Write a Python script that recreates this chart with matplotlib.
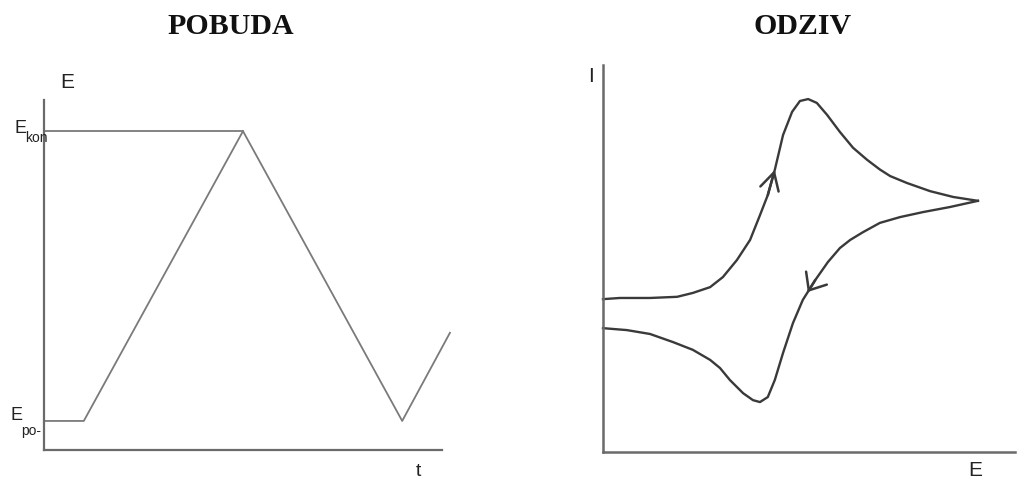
import matplotlib
matplotlib.use("Agg")
import matplotlib.pyplot as plt

W, H = 1019, 482

# ---- excitation (POBUDA) ----
t_pts = [0, 1.0, 5.0, 9.0, 10.2]
E_pts = [0.83, 0.83, 9.11, 0.83, 3.35]
E_kon = 9.11

# ---- response (ODZIV) ----
E_fwd = [0, 0.41, 1.14, 1.80, 2.18, 2.60, 2.91, 3.25, 3.57, 3.81, 4.00, 4.17,
         4.37, 4.59, 4.78, 4.98, 5.19, 5.44, 5.75, 6.07, 6.41, 6.72, 6.97,
         7.38, 7.94, 8.50, 9.10]
I_fwd = [3.95, 3.98, 3.98, 4.01, 4.11, 4.26, 4.52, 4.96, 5.48, 6.12, 6.64, 7.29,
         8.19, 8.79, 9.07, 9.12, 9.02, 8.71, 8.27, 7.86, 7.55, 7.30, 7.13,
         6.95, 6.74, 6.59, 6.49]
E_rev = [9.10, 8.42, 7.77, 7.21, 6.72, 6.31, 6.00, 5.75, 5.46, 5.15, 4.85, 4.61,
         4.37, 4.17, 4.00, 3.81, 3.64, 3.40, 3.08, 2.84, 2.60, 2.18, 1.70, 1.14,
         0.58, 0]
I_rev = [6.49, 6.33, 6.20, 6.07, 5.92, 5.68, 5.48, 5.27, 4.91, 4.44, 3.93, 3.33,
         2.56, 1.86, 1.42, 1.29, 1.34, 1.52, 1.86, 2.17, 2.38, 2.64, 2.84, 3.05,
         3.15, 3.20]

fig = plt.figure(figsize=(W / 100, H / 100), dpi=100)
fig.patch.set_facecolor("white")


def px(x, y):
    return x / W, 1 - y / H


def style_axes(ax, color, lw):
    for s in ("top", "right"):
        ax.spines[s].set_visible(False)
    for s in ("left", "bottom"):
        ax.spines[s].set_color(color)
        ax.spines[s].set_linewidth(lw)
    ax.set_xticks([])
    ax.set_yticks([])
    ax.set_xlim(0, 10)
    ax.set_ylim(0, 10)
    ax.patch.set_alpha(0)


# left axes: x 44..442 px, y 450..100 px
axL = fig.add_axes([44 / W, (H - 450) / H, 398 / W, 350 / H])
style_axes(axL, "#6a6a6a", 1.6)
axL.plot(t_pts, E_pts, color="#7a7a7a", lw=1.3, clip_on=False)
axL.plot([0, t_pts[2]], [E_kon, E_kon], color="#7a7a7a", lw=1.3, clip_on=False)

# right axes: x 603..1015 px, y 452..65 px
axR = fig.add_axes([603 / W, (H - 452) / H, 412 / W, 387 / H])
style_axes(axR, "#6a6a6a", 1.8)
lc = "#3a3a3a"
axR.plot(E_fwd, I_fwd, color=lc, lw=1.7, clip_on=False,
         solid_joinstyle="round")
axR.plot(E_rev, I_rev, color=lc, lw=1.7, clip_on=False,
         solid_joinstyle="round")

# forward arrow (tip on the rising branch)
axR.annotate("", xy=(E_fwd[11], I_fwd[11]), xytext=(E_fwd[10], I_fwd[10]),
             arrowprops=dict(arrowstyle="->,head_length=0.62,head_width=0.34",
                             color=lc, lw=1.8, mutation_scale=20,
                             shrinkA=0, shrinkB=0))
# reverse arrow (tip part-way along a descending segment)
f = 0.6
tipE = E_rev[9] + f * (E_rev[10] - E_rev[9])
tipI = I_rev[9] + f * (I_rev[10] - I_rev[9])
axR.annotate("", xy=(tipE, tipI), xytext=(E_rev[9], I_rev[9]),
             arrowprops=dict(arrowstyle="->,head_length=0.52,head_width=0.44",
                             color=lc, lw=1.8, mutation_scale=20,
                             shrinkA=0, shrinkB=0))

# titles
serif = ["Liberation Serif", "DejaVu Serif"]
fig.text(*px(231, 26), "POBUDA", family=serif, weight="bold", fontsize=21.5,
         ha="center", va="center", color="#111111")
fig.text(*px(803, 26), "ODZIV", family=serif, weight="bold", fontsize=21.5,
         ha="center", va="center", color="#111111")

sans = ["Liberation Sans", "DejaVu Sans"]
tc = "#222222"
fig.text(*px(67, 82), "E", family=sans, fontsize=15, ha="center", va="center", color=tc)
fig.text(*px(591, 77), "I", family=sans, fontsize=15, ha="center", va="center", color=tc)
fig.text(*px(418, 472), "t", family=sans, fontsize=14, ha="center", va="center", color=tc)
fig.text(*px(975, 470), "E", family=sans, fontsize=15, ha="center", va="center", color=tc)

# E_kon label
fig.text(*px(21, 129), "E", family=sans, fontsize=13, ha="center", va="center", color=tc)
fig.text(*px(36, 138), "kon", family=sans, fontsize=10, ha="center", va="center", color=tc)
# E_po label
fig.text(*px(17, 415), "E", family=sans, fontsize=13, ha="center", va="center", color=tc)
fig.text(*px(21, 431), "po-", family=sans, fontsize=10, ha="left", va="center", color=tc)

fig.savefig("out.png", dpi=100, facecolor="white")
